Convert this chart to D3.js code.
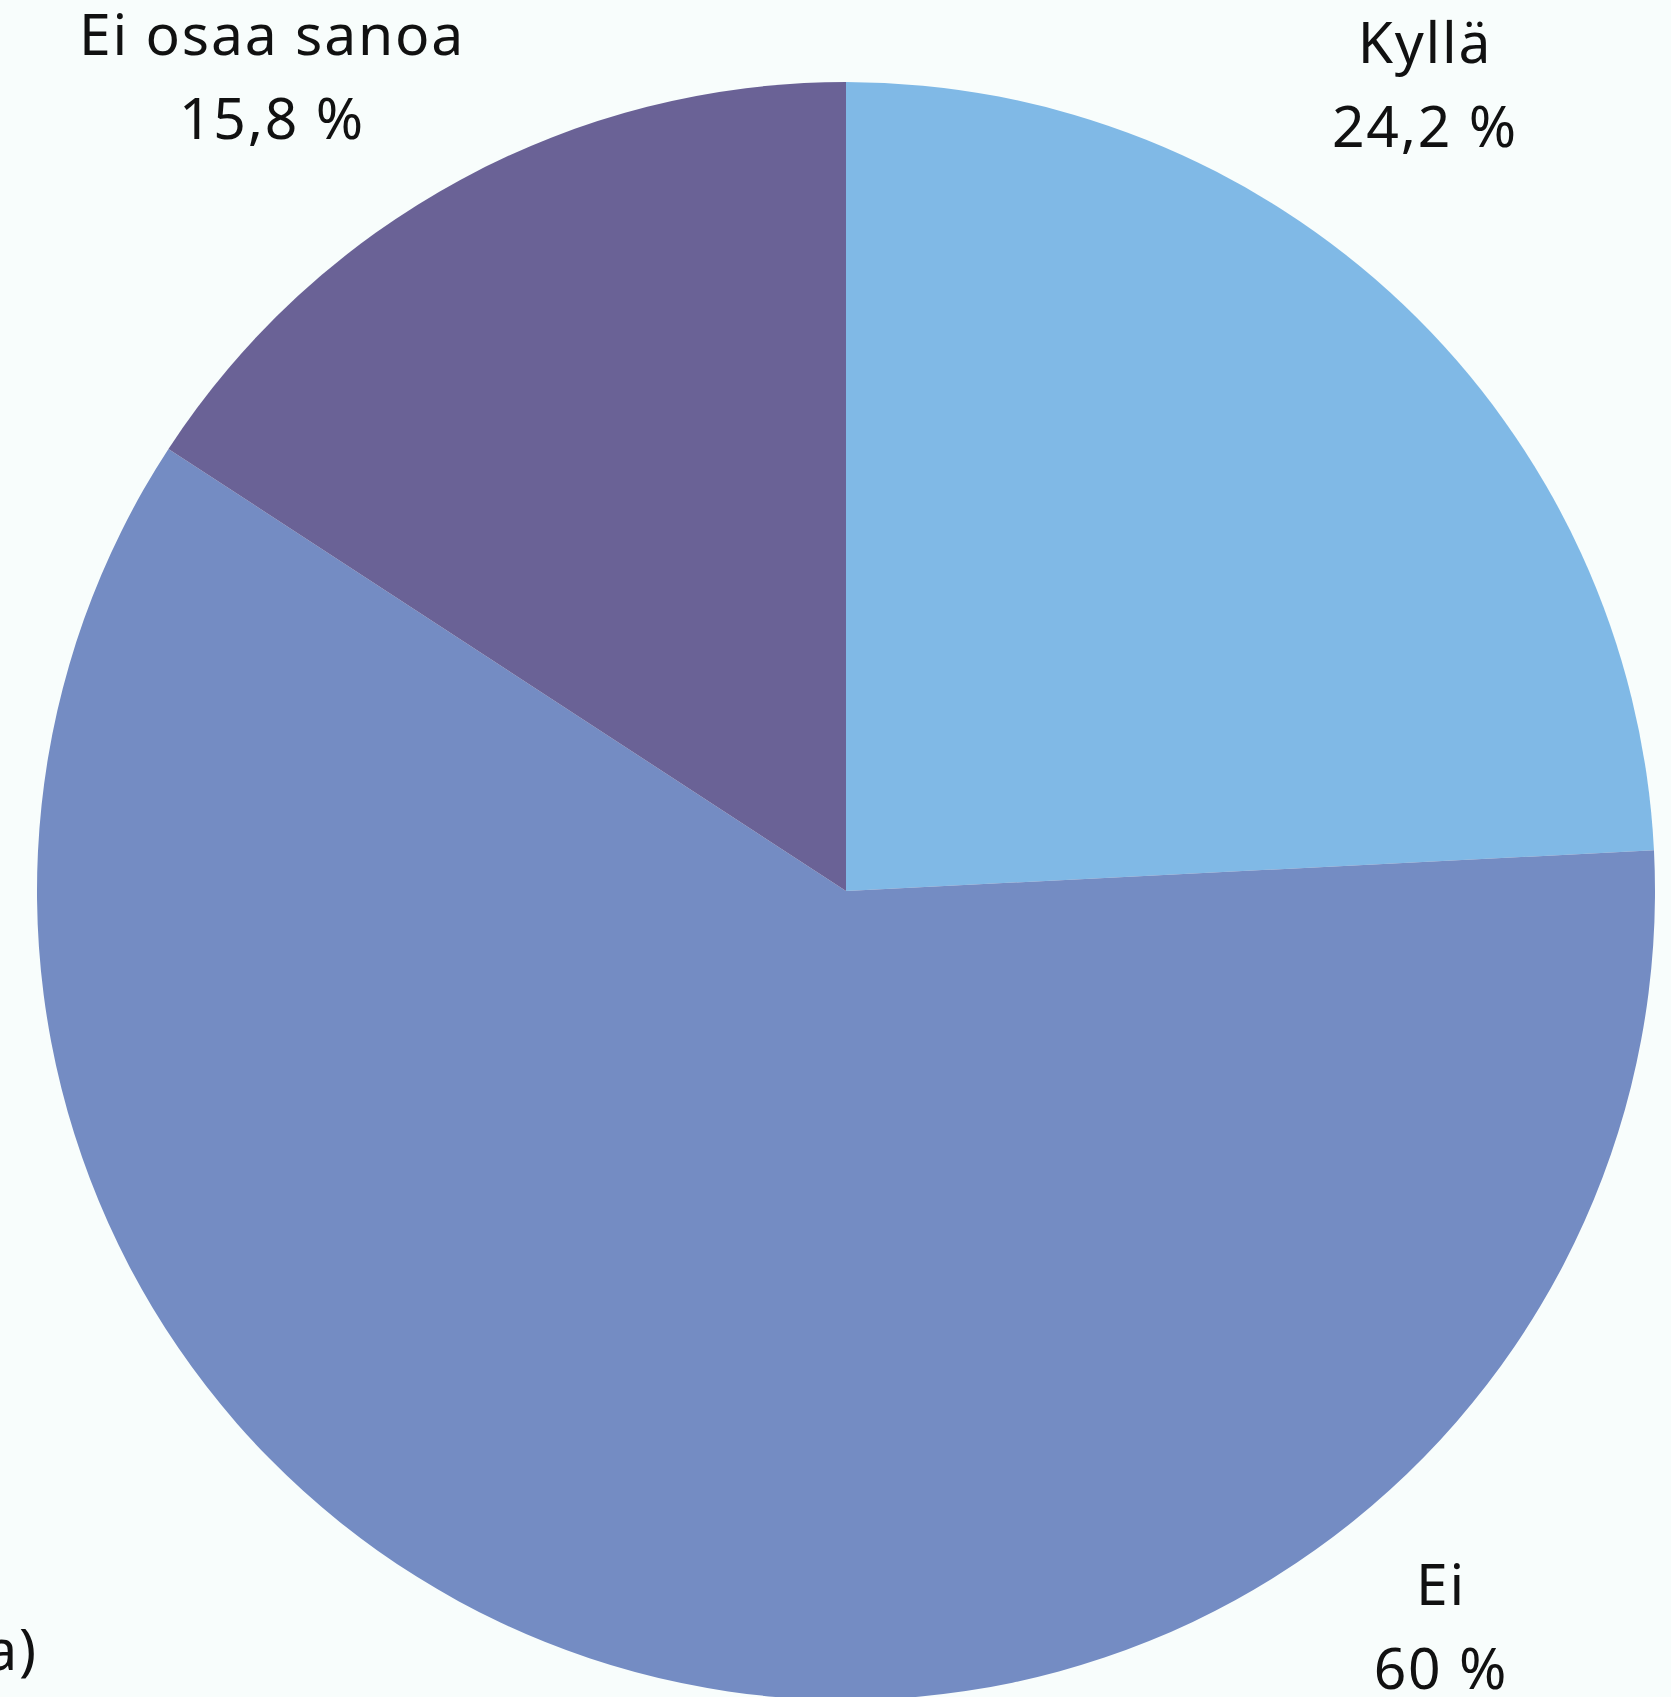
<!DOCTYPE html>
<html><head><meta charset="utf-8">
<script src="https://cdn.jsdelivr.net/npm/d3@7"></script>
<style>
html,body{margin:0;padding:0;background:#f8fdfc;overflow:hidden}
svg{display:block}
text{font-family:"Noto Sans","Open Sans",sans-serif;fill:#111}
</style></head>
<body>
<script>
const categories = ["Kyllä", "Ei", "Ei osaa sanoa"];
const values = [24.2, 60, 15.8];
const valueLabels = ["24,2 %", "60 %", "15,8 %"];
const colors = ["#80b9e6", "#748cc3", "#6a6296"];

// label anchor positions (layout only)
const labelPos = [[1425, 63], [1441, 1605], [272, 55]];

const W = 1671, H = 1697;
const cx = 846, cy = 891, R = 809;

const svg = d3.select("body").append("svg").attr("width", W).attr("height", H);
svg.append("rect").attr("width", W).attr("height", H).attr("fill", "#f8fdfc");

const pie = d3.pie().sort(null).value(d => d)(values);
const arc = d3.arc().innerRadius(0).outerRadius(R);

const g = svg.append("g").attr("transform", `translate(${cx},${cy})`);
g.selectAll("path").data(pie).join("path")
  .attr("d", arc)
  .attr("fill", (d, i) => colors[i]);

const lbl = svg.append("g");
categories.forEach((c, i) => {
  const [x, y] = labelPos[i];
  const t = lbl.append("text").attr("text-anchor", "middle").attr("font-size", 57)
    .attr("letter-spacing", 1.8);
  t.append("tspan").attr("x", x).attr("y", y).text(c);
  t.append("tspan").attr("x", x).attr("y", y + 84).text(valueLabels[i]);
});

svg.append("text").attr("x", 38).attr("y", 1670).attr("text-anchor", "end")
  .attr("font-size", 57).attr("letter-spacing", 1.8).text("(ei kumpaakaan / en osaa sanoa)");
</script>
</body></html>
